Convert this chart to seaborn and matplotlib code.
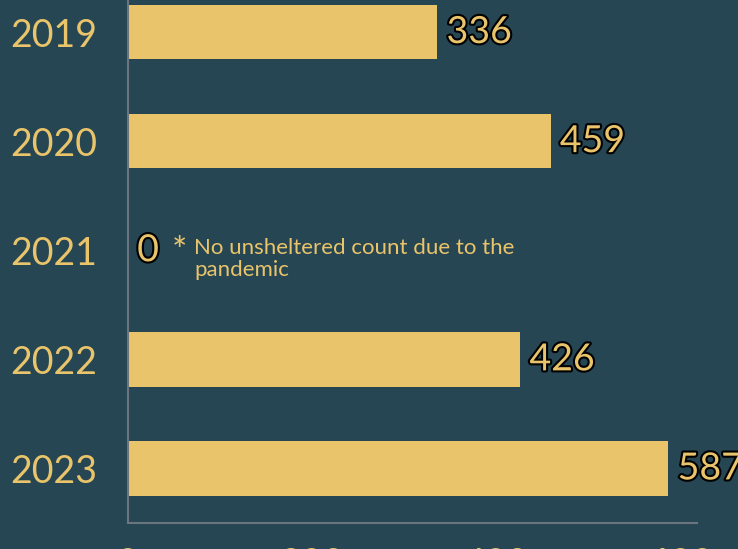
import matplotlib
matplotlib.use("Agg")
import matplotlib.pyplot as plt
import matplotlib.patheffects as pe
import seaborn as sns
import pandas as pd

years = ["2019", "2020", "2021", "2022", "2023"]
counts = [336, 459, 0, 426, 587]
xticks = [0, 200, 400, 600]
note = "No unsheltered count due to the\npandemic"

BG = "#264653"
GOLD = "#e9c46a"
SPINE = "#6b7580"

sns.set_theme(style="white")
plt.rcParams["font.family"] = ["Lato", "DejaVu Sans"]

df = pd.DataFrame({"year": years, "count": counts})

fig = plt.figure(figsize=(7.38, 5.49), dpi=100, facecolor=BG)
ax = fig.add_axes([128 / 738, 26 / 549, (697 - 128) / 738, (549 + 22.5 - 26) / 549])
ax.set_facecolor(BG)

sns.barplot(data=df, y="year", x="count", order=years, orient="h",
            color=GOLD, saturation=1, width=0.5, linewidth=0, ax=ax)

ax.set_xlim(0, 618)
ax.set_ylim(4.5, -0.5)
ax.set_xticks(xticks)
ax.set_xticklabels([str(t) for t in xticks])
ax.set_xlabel("")
ax.set_ylabel("")
ax.tick_params(axis="both", length=0, colors=GOLD, labelsize=27)
ax.tick_params(axis="x", pad=17)
ax.tick_params(axis="y", pad=22)
for lbl in ax.get_yticklabels() + ax.get_xticklabels():
    lbl.set_color(GOLD)

for s in ["top", "right"]:
    ax.spines[s].set_visible(False)
for s in ["left", "bottom"]:
    ax.spines[s].set_color(SPINE)
    ax.spines[s].set_linewidth(1.5)

stroke = [pe.withStroke(linewidth=3, foreground="black")]
for i, v in enumerate(counts):
    ax.text(v + 10, i, str(v), color=GOLD, fontsize=27, va="center", ha="left",
            path_effects=stroke)

ax.text(48, 2.02, "*", color=GOLD, fontsize=26, va="center", ha="left")
ax.text(72, 2.08, note, color=GOLD, fontsize=16, va="center", ha="left",
        linespacing=1.12)

fig.savefig("out.png", dpi=100, facecolor=BG)
